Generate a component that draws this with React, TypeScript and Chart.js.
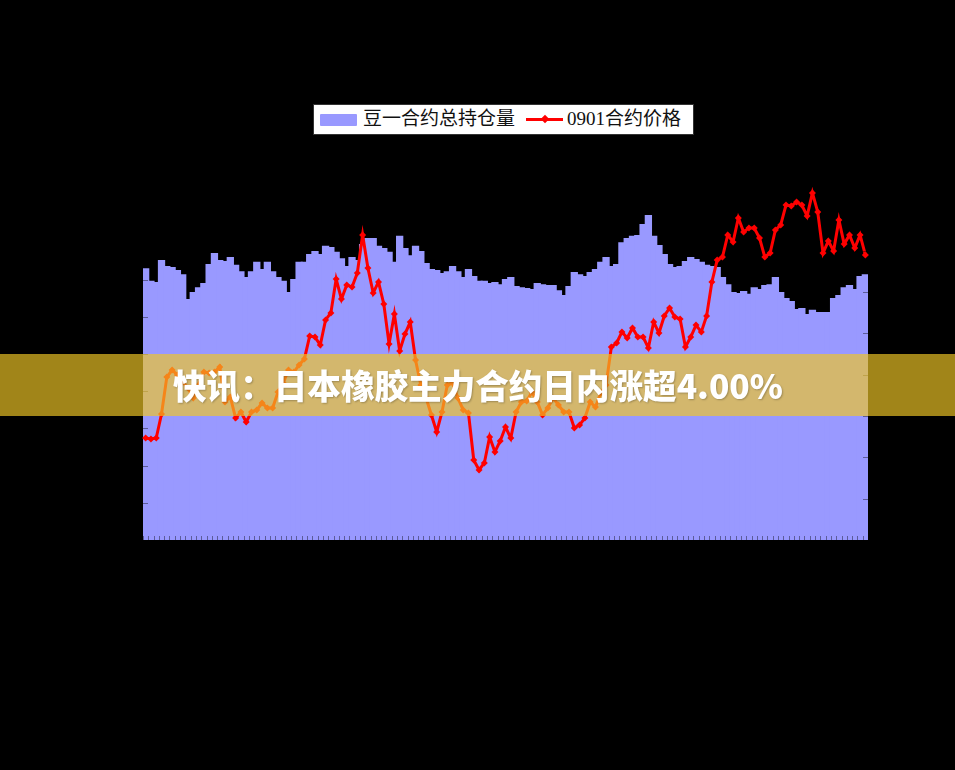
import React, { useEffect, useRef } from "react";
import { Chart, registerables } from "chart.js";

Chart.register(...registerables);

// 豆一合约总持仓量 (万手, left axis)
const openInterest = [
  72.8, 69.4, 69.1, 75.0, 73.4, 73.1, 72.3, 71.2, 64.5, 66.4,
  67.7, 68.8, 73.9, 76.9, 75.0, 74.7, 75.8, 73.7, 72.0, 70.4,
  72.0, 74.5, 72.6, 74.5, 72.0, 70.4, 69.4, 66.4, 69.9, 74.5,
  74.5, 76.6, 77.4, 76.6, 78.8, 78.5, 77.2, 75.5, 73.4, 75.8,
  75.0, 79.3, 80.9, 80.9, 78.8, 78.2, 77.2, 74.5, 81.5, 78.2,
  76.3, 78.8, 77.4, 74.2, 72.6, 72.3, 71.5, 72.0, 73.4, 72.0,
  70.4, 72.6, 70.7, 69.4, 69.4, 68.8, 69.1, 68.5, 69.9, 70.4,
  68.0, 67.7, 67.5, 67.2, 68.8, 68.5, 68.3, 68.3, 66.9, 65.6,
  68.0, 71.8, 71.2, 70.7, 71.8, 72.6, 74.5, 75.8, 73.4, 73.9,
  79.8, 80.9, 81.5, 81.7, 84.7, 87.1, 81.5, 79.0, 76.6, 73.9,
  73.1, 73.4, 74.7, 75.8, 75.3, 74.5, 73.7, 73.4, 73.1, 70.4,
  68.5, 66.4, 66.1, 66.7, 65.9, 67.7, 67.2, 68.3, 68.5, 70.4,
  66.4, 64.8, 64.0, 61.8, 62.1, 60.5, 61.6, 61.0, 61.0, 61.0,
  64.8, 65.6, 67.7, 68.3, 67.2, 70.7, 71.2,
];

// 0901合约价格 (元/吨, right axis)
const price0901 = [
  3440, 3433, 3440, 3614, 3883, 3934, 3898, 3847, 3803, 3731,
  3825, 3919, 3912, 3919, 3956, 3702, 3738, 3585, 3629, 3556,
  3629, 3644, 3694, 3658, 3658, 3774, 3840, 3934, 3919, 3970,
  4014, 4181, 4173, 4115, 4297, 4348, 4594, 4449, 4551, 4536,
  4638, 4914, 4674, 4493, 4573, 4413, 4123, 4340, 4072, 4195,
  4282, 4006, 3825, 3731, 3607, 3484, 3629, 3825, 3840, 3731,
  3644, 3622, 3281, 3208, 3259, 3448, 3339, 3419, 3520, 3440,
  3629, 3702, 3709, 3774, 3702, 3607, 3658, 3731, 3680, 3629,
  3629, 3513, 3535, 3585, 3702, 3665, 3767, 3825, 4101, 4130,
  4210, 4166, 4239, 4173, 4173, 4094, 4282, 4202, 4326, 4384,
  4319, 4304, 4101, 4173, 4260, 4210, 4326, 4573, 4732, 4754,
  4914, 4863, 5037, 4935, 4965, 4965, 4892, 4754, 4783, 4950,
  4986, 5131, 5124, 5153, 5131, 5052, 5219, 5081, 4783, 4870,
  4798, 5023, 4848, 4914, 4819, 4914, 4769,
];

// trading-day categories
const categories = openInterest.map((_, i) => String(i + 1));

const leftAxis = { min: 0, max: 100, step: 10 };
const rightAxis = { min: 2700, max: 5400, step: 300 };

const legendLabels = ["豆一合约总持仓量", "0901合约价格"];
const bannerText = "快讯：日本橡胶主力合约日内涨超4.00%";

const innerTicks = {
  id: "innerTicks",
  afterDatasetsDraw(chart: any) {
    const { ctx, chartArea } = chart;
    const x = chart.scales.x;
    const y = chart.scales.y;
    const y1 = chart.scales.y1;
    ctx.save();
    ctx.strokeStyle = "rgba(0,0,0,0.4)";
    ctx.lineWidth = 1;
    ctx.beginPath();
    for (let v = leftAxis.min; v <= leftAxis.max; v += leftAxis.step) {
      const py = Math.round(y.getPixelForValue(v)) + 0.5;
      ctx.moveTo(chartArea.left, py);
      ctx.lineTo(chartArea.left + 5, py);
    }
    for (let v = rightAxis.min; v <= rightAxis.max; v += rightAxis.step) {
      const py = Math.round(y1.getPixelForValue(v)) + 0.5;
      ctx.moveTo(chartArea.right - 5, py);
      ctx.lineTo(chartArea.right, py);
    }
    const n = categories.length;
    for (let i = 0; i <= n; i++) {
      let px: number;
      if (i === 0) px = chartArea.left;
      else if (i === n) px = chartArea.right;
      else px = (x.getPixelForValue(i - 1) + x.getPixelForValue(i)) / 2;
      px = Math.round(px) + 0.5;
      ctx.moveTo(px, chartArea.bottom);
      ctx.lineTo(px, chartArea.bottom - 4);
    }
    ctx.stroke();
    ctx.restore();
  },
};

export default function App() {
  const canvasRef = useRef<HTMLCanvasElement | null>(null);

  useEffect(() => {
    const canvas = canvasRef.current;
    if (!canvas) return;
    const chart = new Chart(canvas, {
      type: "bar",
      data: {
        labels: categories,
        datasets: [
          {
            type: "line",
            label: legendLabels[1],
            data: price0901,
            yAxisID: "y1",
            borderColor: "#ff0000",
            backgroundColor: "#ff0000",
            borderWidth: 3,
            pointStyle: "rectRot",
            pointRadius: 3.5,
            pointBorderWidth: 0,
            pointBackgroundColor: "#ff0000",
            tension: 0,
            order: 1,
          } as any,
          {
            type: "bar",
            label: legendLabels[0],
            data: openInterest,
            yAxisID: "y",
            backgroundColor: "#9999ff",
            borderWidth: 0,
            barPercentage: 1,
            categoryPercentage: 1,
            inflateAmount: 1,
            order: 2,
          } as any,
        ],
      },
      options: {
        animation: false,
        responsive: false,
        maintainAspectRatio: false,
        layout: { padding: { left: 143, right: 87, top: 168, bottom: 230 } },
        plugins: { legend: { display: false }, tooltip: { enabled: false } },
        scales: {
          x: { display: false, offset: true },
          y: {
            display: false,
            position: "left",
            min: leftAxis.min,
            max: leftAxis.max,
            ticks: { stepSize: leftAxis.step },
          },
          y1: {
            display: false,
            position: "right",
            min: rightAxis.min,
            max: rightAxis.max,
            ticks: { stepSize: rightAxis.step },
          },
        },
      },
      plugins: [innerTicks],
    });
    return () => chart.destroy();
  }, []);

  const legendFont = '"Liberation Serif", "DejaVu Serif", "Noto Sans CJK SC", serif';

  return (
    <div style={{ position: "fixed", left: 0, top: 0, width: 955, height: 770, background: "#000", overflow: "hidden" }}>
      <canvas ref={canvasRef} width={955} height={770} style={{ position: "absolute", left: 0, top: 0, width: 955, height: 770 }} />
      <div
        style={{
          position: "absolute",
          left: 313,
          top: 104,
          width: 379,
          height: 29,
          background: "#fff",
          border: "1px solid #333",
          fontFamily: legendFont,
          fontSize: 19,
          color: "#111",
        }}
      >
        <div style={{ position: "absolute", left: 6, top: 9, width: 37, height: 12, background: "#9999ff", borderRadius: 1 }} />
        <span style={{ position: "absolute", left: 49, top: 2, lineHeight: "24px", whiteSpace: "nowrap" }}>{legendLabels[0]}</span>
        <div style={{ position: "absolute", left: 212, top: 13, width: 37, height: 3, background: "#ff0000" }} />
        <div style={{ position: "absolute", left: 228, top: 11, width: 6, height: 6, background: "#ff0000", transform: "rotate(45deg)" }} />
        <span style={{ position: "absolute", left: 253, top: 2, lineHeight: "24px", whiteSpace: "nowrap" }}>{legendLabels[1]}</span>
      </div>
      <div
        style={{
          position: "absolute",
          left: 0,
          top: 354,
          width: 955,
          height: 62,
          background: "rgba(240,198,38,0.67)",
        }}
      >
        <span
          style={{
            position: "absolute",
            left: 173,
            top: 0,
            lineHeight: "62px",
            fontFamily: '"Noto Sans CJK SC", "Noto Sans", sans-serif',
            fontWeight: 900,
            fontSize: 33.6,
            color: "#fff",
            whiteSpace: "nowrap",
            textShadow: "1px 1px 2px rgba(0,0,0,0.25)",
          }}
        >
          {bannerText}
        </span>
      </div>
    </div>
  );
}
